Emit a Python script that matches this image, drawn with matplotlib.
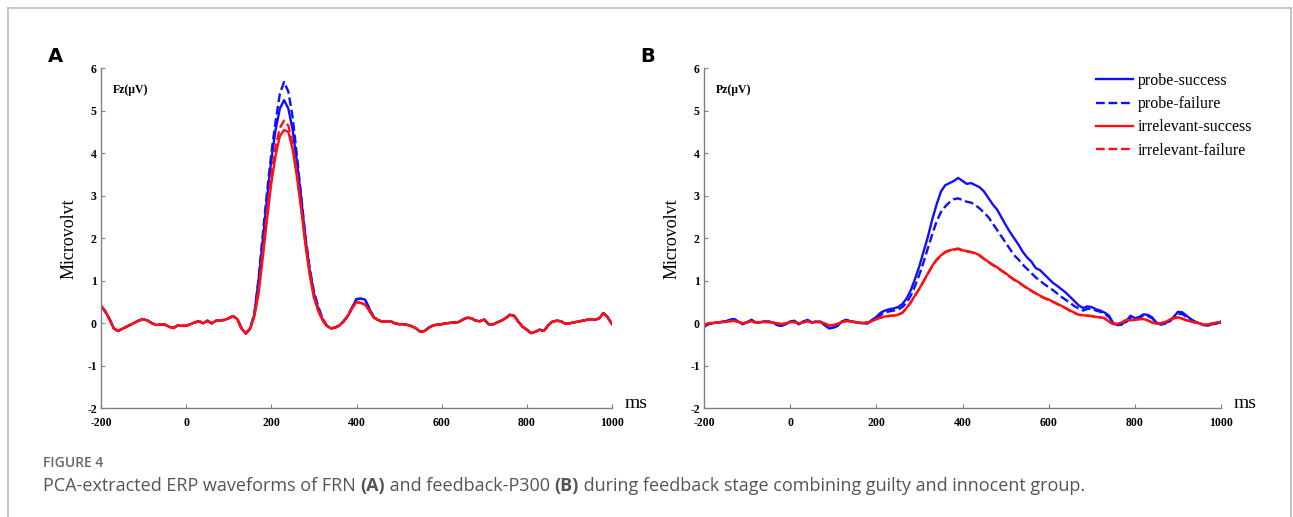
import numpy as np
import matplotlib
matplotlib.use("Agg")
import matplotlib.pyplot as plt
from matplotlib.lines import Line2D

# time axis (ms), 10 ms sampling
t = np.arange(-200, 1001, 10)

# ---- panel A (Fz) ----
fz_pre = [0.41, 0.28, 0.10, -0.12, -0.18, -0.13, -0.08, -0.03, 0.02, 0.07,
          0.10, 0.06, 0.00, -0.04, -0.03, -0.03, -0.08, -0.11, -0.05, -0.06,
          -0.06, -0.02, 0.02, 0.05, 0.00, 0.06, 0.00, 0.06, 0.07, 0.08,
          0.12, 0.17, 0.10, -0.12, -0.24, -0.13]
fz_peak_ps = [0.20, 1.00, 1.95, 2.95, 3.85, 4.55, 5.05, 5.25, 5.05, 4.55,
              3.80, 2.95, 2.00, 1.25, 0.70, 0.35, 0.10, -0.05, -0.12, -0.10]
fz_peak_pf = [0.22, 1.05, 2.10, 3.10, 4.00, 4.75, 5.40, 5.68, 5.45, 4.85,
              3.95, 3.00, 2.05, 1.30, 0.75, 0.40, 0.12, -0.05, -0.12, -0.10]
fz_peak_is = [0.16, 0.70, 1.55, 2.45, 3.30, 3.95, 4.40, 4.55, 4.50, 4.10,
              3.45, 2.70, 1.85, 1.15, 0.60, 0.30, 0.08, -0.06, -0.12, -0.10]
fz_peak_if = [0.18, 0.80, 1.70, 2.65, 3.50, 4.15, 4.60, 4.77, 4.65, 4.20,
              3.55, 2.75, 1.90, 1.20, 0.65, 0.30, 0.08, -0.06, -0.12, -0.10]
fz_p400_probe = [-0.05, 0.05, 0.18, 0.38, 0.57, 0.58, 0.56, 0.35, 0.15]
fz_p400_irr = [-0.05, 0.05, 0.18, 0.36, 0.50, 0.48, 0.44, 0.30, 0.14]
fz_tail = [0.08, 0.04, 0.04, 0.05, 0.00, -0.02, -0.02, -0.04, -0.07, -0.12,
           -0.20, -0.18, -0.10, -0.05, -0.03, -0.02, 0.00, 0.01, 0.02, 0.03,
           0.09, 0.13, 0.12, 0.06, 0.05, 0.09, -0.02, -0.03, 0.02, 0.06,
           0.12, 0.20, 0.18, 0.04, -0.08, -0.15, -0.23, -0.20, -0.15, -0.18,
           -0.05, 0.04, 0.06, 0.05, -0.01, 0.00, 0.02, 0.04, 0.06, 0.08,
           0.09, 0.08, 0.12, 0.24, 0.14, -0.02]

fz = {
    "probe-success": fz_pre + fz_peak_ps + fz_p400_probe + fz_tail,
    "probe-failure": fz_pre + fz_peak_pf + fz_p400_probe + fz_tail,
    "irrelevant-success": fz_pre + fz_peak_is + fz_p400_irr + fz_tail,
    "irrelevant-failure": fz_pre + fz_peak_if + fz_p400_irr + fz_tail,
}

# ---- panel B (Pz) ----
pz_pre_probe = [-0.08, -0.02, 0.00, 0.02, 0.03, 0.05, 0.08, 0.10, 0.04, -0.02,
                0.03, 0.08, 0.02, 0.03, 0.04, 0.04, 0.02, -0.04, -0.06, -0.02,
                0.04, 0.06, -0.02, 0.04, 0.08, 0.02, 0.04, 0.04, -0.04, -0.12,
                -0.10, -0.06, 0.04, 0.08, 0.05, 0.03, 0.01, 0.00, 0.00]
pz_pre_irr = [-0.05, 0.00, 0.01, 0.02, 0.03, 0.03, 0.05, 0.06, 0.03, 0.00,
              0.02, 0.05, 0.02, 0.02, 0.03, 0.03, 0.02, 0.00, -0.02, 0.00,
              0.03, 0.03, 0.00, 0.02, 0.05, 0.02, 0.03, 0.03, 0.00, -0.05,
              -0.04, -0.01, 0.03, 0.05, 0.04, 0.03, 0.02, 0.01, 0.02]
pz_ps = [0.08, 0.15, 0.25, 0.30, 0.33, 0.35, 0.38, 0.45, 0.58, 0.78,
         1.05, 1.35, 1.70, 2.05, 2.45, 2.80, 3.10, 3.25, 3.30, 3.35,
         3.42, 3.35, 3.28, 3.30, 3.25, 3.20, 3.10, 2.95, 2.80, 2.68,
         2.50, 2.32, 2.15, 2.00, 1.85, 1.68, 1.55, 1.45, 1.30, 1.25,
         1.15, 1.05, 0.95, 0.88, 0.80, 0.72, 0.62, 0.52, 0.42, 0.36,
         0.40, 0.38, 0.33, 0.30, 0.25, 0.18, 0.00, -0.03, -0.02, 0.05,
         0.18, 0.12, 0.15, 0.21, 0.20, 0.14, 0.02, -0.02, 0.00, 0.05,
         0.15, 0.27, 0.26, 0.18, 0.10, 0.04, 0.00, -0.04, -0.05, -0.02,
         0.00, 0.04]
pz_pf = [0.07, 0.13, 0.20, 0.25, 0.28, 0.30, 0.32, 0.38, 0.48, 0.65,
         0.88, 1.15, 1.45, 1.78, 2.10, 2.40, 2.62, 2.75, 2.85, 2.92,
         2.94, 2.90, 2.86, 2.84, 2.78, 2.70, 2.60, 2.50, 2.35, 2.20,
         2.05, 1.90, 1.75, 1.60, 1.50, 1.38, 1.28, 1.18, 1.08, 1.00,
         0.92, 0.85, 0.78, 0.70, 0.62, 0.55, 0.48, 0.40, 0.35, 0.30,
         0.34, 0.34, 0.30, 0.27, 0.22, 0.15, 0.00, -0.04, -0.03, 0.03,
         0.14, 0.10, 0.13, 0.18, 0.17, 0.12, 0.01, -0.03, -0.01, 0.04,
         0.12, 0.22, 0.22, 0.15, 0.08, 0.03, -0.01, -0.04, -0.05, -0.02,
         0.00, 0.03]
pz_is = [0.05, 0.10, 0.14, 0.16, 0.18, 0.18, 0.20, 0.25, 0.36, 0.50,
         0.66, 0.82, 1.00, 1.18, 1.36, 1.50, 1.60, 1.68, 1.72, 1.74,
         1.76, 1.72, 1.70, 1.68, 1.65, 1.60, 1.52, 1.45, 1.38, 1.32,
         1.25, 1.18, 1.10, 1.03, 0.97, 0.90, 0.83, 0.77, 0.71, 0.65,
         0.60, 0.56, 0.51, 0.46, 0.41, 0.36, 0.30, 0.25, 0.20, 0.19,
         0.18, 0.17, 0.15, 0.14, 0.12, 0.04, -0.02, -0.01, 0.02, 0.08,
         0.07, 0.08, 0.10, 0.10, 0.07, 0.02, -0.01, 0.00, 0.03, 0.08,
         0.12, 0.14, 0.11, 0.07, 0.04, 0.02, 0.00, -0.03, -0.03, 0.00,
         0.02, 0.03]
pz_if = [0.05, 0.10, 0.13, 0.16, 0.17, 0.18, 0.20, 0.24, 0.35, 0.49,
         0.65, 0.81, 0.99, 1.17, 1.35, 1.49, 1.59, 1.67, 1.71, 1.73,
         1.75, 1.71, 1.69, 1.67, 1.64, 1.59, 1.51, 1.44, 1.37, 1.31,
         1.24, 1.17, 1.09, 1.02, 0.96, 0.89, 0.82, 0.76, 0.70, 0.64,
         0.59, 0.55, 0.50, 0.45, 0.40, 0.35, 0.29, 0.24, 0.20, 0.19,
         0.18, 0.17, 0.15, 0.14, 0.12, 0.04, -0.02, -0.01, 0.02, 0.08,
         0.07, 0.08, 0.10, 0.10, 0.07, 0.02, -0.01, 0.00, 0.03, 0.08,
         0.12, 0.14, 0.11, 0.07, 0.04, 0.02, 0.00, -0.03, -0.03, 0.00,
         0.02, 0.03]

pz = {
    "probe-success": pz_pre_probe + pz_ps,
    "probe-failure": pz_pre_probe + pz_pf,
    "irrelevant-success": pz_pre_irr + pz_is,
    "irrelevant-failure": pz_pre_irr + pz_if,
}

styles = {
    "probe-success": ("#1010ff", "-"),
    "probe-failure": ("#1010ff", "--"),
    "irrelevant-success": ("#ff1010", "-"),
    "irrelevant-failure": ("#ff1010", "--"),
}

xticks = [-200, 0, 200, 400, 600, 800, 1000]
yticks = [-2, -1, 0, 1, 2, 3, 4, 5, 6]

fig = plt.figure(figsize=(12.93, 5.17), dpi=100)

# outer frame of the figure panel
fig.add_artist(Line2D([8 / 1293, 8 / 1293], [0, 1 - 8 / 517], transform=fig.transFigure, color="#bbbbbb", lw=1.2))
fig.add_artist(Line2D([8 / 1293, 1291 / 1293], [1 - 8 / 517, 1 - 8 / 517], transform=fig.transFigure, color="#bbbbbb", lw=1.2))
fig.add_artist(Line2D([1291 / 1293, 1291 / 1293], [0, 1 - 8 / 517], transform=fig.transFigure, color="#bbbbbb", lw=1.2))

serif = "Liberation Serif"
spine_col = "#808080"


def draw_panel(rect, data, chan):
    ax = fig.add_axes(rect)
    for name, vals in data.items():
        c, ls = styles[name]
        ax.plot(t, vals, color=c, ls=ls, lw=1.7, label=name)
    ax.set_xlim(-200, 1000)
    ax.set_ylim(-2, 6)
    ax.set_xticks(xticks)
    ax.set_yticks(yticks)
    ax.set_xticklabels([str(v) for v in xticks], fontfamily=serif, fontweight="bold", fontsize=8.5)
    ax.set_yticklabels([str(v) for v in yticks], fontfamily=serif, fontweight="bold", fontsize=8.5)
    ax.tick_params(direction="in", length=3, width=0.8, color=spine_col, pad=3)
    ax.tick_params(axis="x", pad=6)
    for s in ["top", "right"]:
        ax.spines[s].set_visible(False)
    for s in ["left", "bottom"]:
        ax.spines[s].set_color(spine_col)
        ax.spines[s].set_linewidth(1.0)
    ax.set_ylabel("Microvolvt", fontfamily=serif, fontsize=13, labelpad=7)
    ax.text(-172, 5.5, chan, fontfamily=serif, fontweight="bold", fontsize=8.5,
            va="center", ha="left")
    ax.text(1.025, -0.012, "ms", transform=ax.transAxes, fontfamily=serif,
            fontsize=14, ha="left", va="bottom")
    return ax


axA = draw_panel([101 / 1293, 0.2102, 511 / 1293, 0.6577], fz, "Fz(\u03bcV)")
axB = draw_panel([704 / 1293, 0.2102, 517 / 1293, 0.6577], pz, "Pz(\u03bcV)")

axB.legend(loc="upper left", bbox_to_anchor=(1096 / 1293, 1 - 73 / 517),
           bbox_transform=fig.transFigure, frameon=False,
           prop={"family": serif, "size": 11.5}, handlelength=2.3,
           handletextpad=0.3, labelspacing=0.45, borderpad=0, borderaxespad=0)

fig.text(48 / 1293, 1 - 57 / 517, "A", fontsize=14, fontweight="bold",
         fontfamily="DejaVu Sans", va="center", ha="left")
fig.text(640 / 1293, 1 - 57 / 517, "B", fontsize=14, fontweight="bold",
         fontfamily="DejaVu Sans", va="center", ha="left")

# caption
cap_font = "Open Sans"
fig.text(43 / 1293, 1 - 463 / 517, "FIGURE 4", fontsize=10, color="#666666",
         fontfamily=cap_font, fontweight="semibold", va="center", ha="left")

pieces = [
    ("PCA-extracted ERP waveforms of FRN ", "normal"),
    ("(A)", "bold"),
    (" and feedback-P300 ", "normal"),
    ("(B)", "bold"),
    (" during feedback stage combining guilty and innocent group.", "normal"),
]
renderer = fig.canvas.get_renderer()
x = 43 / 1293
for txt, w in pieces:
    tx = fig.text(x, 1 - 486 / 517, txt, fontsize=13, color="#555555",
                  fontfamily=cap_font, fontweight=w, va="center", ha="left")
    bb = tx.get_window_extent(renderer=renderer)
    x += bb.width / fig.bbox.width

fig.savefig("out.png", dpi=100)
